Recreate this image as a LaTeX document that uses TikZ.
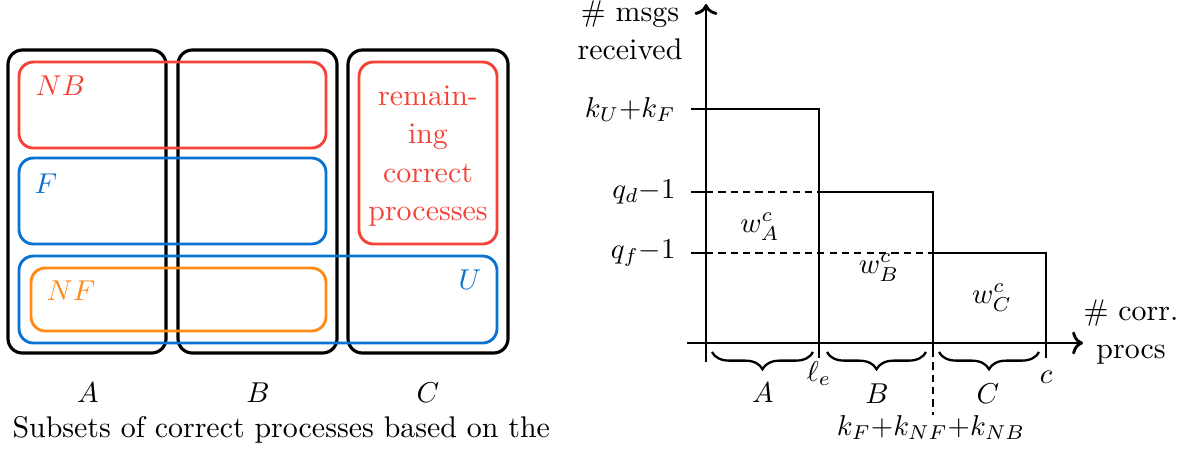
\documentclass[tikz,border=0pt]{standalone}
\usepackage{amsmath}
\usepackage{amssymb}
\usepackage{tikz}
\usetikzlibrary{positioning}
\usetikzlibrary{decorations.pathreplacing}
\usetikzlibrary{calc}
\usetikzlibrary{arrows.meta}
\definecolor{rougeens}{RGB}{244,67,54}
\definecolor{bleuens}{RGB}{10,114,208}
\definecolor{orangeens}{RGB}{255,138,24}
\begin{document}
\begin{tikzpicture}[x=0.348pt,y=-0.348pt,every node/.style={font=\fontsize{10.4}{13.4}\selectfont}]
% définition des paramètres
\tikzstyle boitenoire=[color=black,line width=1.1pt,rounded corners=5pt]
\tikzstyle boiterouge=[color=rougeens,line width=1pt,rounded corners=5pt]
\tikzstyle boitebleue=[color=bleuens,line width=1pt,rounded corners=5pt]
\tikzstyle boiteorange=[color=orangeens,line width=1pt,rounded corners=5pt]
\tikzstyle axemichael=[color=black,line width=1pt,->]
\tikzstyle courbemichael=[color=black,line width=1pt]
\tikzstyle pointilles=[color=black,line width=1pt,dash pattern=on 2.5pt off 1.8pt]
\tikzstyle accolade=[decorate,decoration={brace,amplitude=6pt},line width=0.8pt]
\tikzstyle etiq=[inner sep=0pt,anchor=base]
\tikzstyle bloc=[inner sep=0pt,anchor=north,align=center]
\newcommand{\axex}{706}   % abscisse de l'axe vertical
\newcommand{\axey}{343}   % ordonnée de l'axe horizontal
\newcommand{\xle}{819}    % abscisse de l_e
\newcommand{\xkf}{933}    % abscisse de k_F+k_NF+k_NB
\newcommand{\xc}{1046}    % abscisse de c
\newcommand{\yku}{109}    % niveau k_U+k_F
\newcommand{\yqd}{192}    % niveau q_d-1
\newcommand{\yqf}{253}    % niveau q_f-1
\useasboundingbox (0,0) rectangle (1202,450);
% les boîtes noires A, B, C
\draw [boitenoire] (8,50) rectangle (166,353);
\draw [boitenoire] (178,50) rectangle (337,353);
\draw [boitenoire] (348,50) rectangle (508,353);
% les ensembles
\draw [boiterouge] (19,62) rectangle (326,148);
\draw [boitebleue] (19,158) rectangle (326,244);
\draw [boitebleue] (19,256) rectangle (497,343);
\draw [boiteorange] (31,268) rectangle (326,331);
\draw [boiterouge] (359,62) rectangle (497,244);
\node [etiq,anchor=base west,text=rougeens] (nb) at (35,95) {$NB$};
\node [etiq,anchor=base west,text=bleuens] (f) at (34,193) {$F$};
\node [etiq,anchor=base west,text=orangeens] (nf) at (46,300) {$NF$};
\node [etiq,anchor=base east,text=bleuens] (u) at (482,289) {$U$};
\node [bloc,text=rougeens] (reste) at (428,85) {remain-\\ing\\correct\\processes};
\node [etiq] (ensa) at (88,402) {$A$};
\node [etiq] (ensb) at (258,402) {$B$};
\node [etiq] (ensc) at (428,402) {$C$};
\node [etiq,anchor=base west] (legende) at (12,437) {Subsets of correct processes based on the};
% les axes
\coordinate (xdeb) at (687,\axey);
\coordinate (xfin) at (1083,\axey);
\coordinate (ydeb) at (\axex,362);
\coordinate (yfin) at (\axex,4);
\draw [axemichael] (xdeb) -- (xfin);
\draw [axemichael] (ydeb) -- (yfin);
\node [bloc] (ylab) at (630,0) {\# msgs\\received};
\node [bloc] (xlab) at (1131,299) {\# corr.\\procs};
% les marches
\coordinate (ku) at (691,\yku);
\coordinate (qd) at (691,\yqd);
\coordinate (qf) at (691,\yqf);
\draw [courbemichael] (ku) -- (\xle,\yku) -- (\xle,358);
\draw [courbemichael] (qd) -- (\axex,\yqd);
\draw [pointilles] (\axex,\yqd) -- (\xle,\yqd);
\draw [courbemichael] (\xle,\yqd) -- (\xkf,\yqd) -- (\xkf,350);
\draw [pointilles] (\xkf,350) -- (\xkf,415);
\draw [courbemichael] (qf) -- (\axex,\yqf);
\draw [pointilles] (\axex,\yqf) -- (\xkf,\yqf);
\draw [courbemichael] (\xkf,\yqf) -- (\xc,\yqf) -- (\xc,358);
\node [etiq,anchor=base east] (lku) at (676,117) {$k_U{+}k_F$};
\node [etiq,anchor=base east] (lqd) at (676,198) {$q_d{-}1$};
\node [etiq,anchor=base east] (lqf) at (676,258) {$q_f{-}1$};
\node [etiq] (wa) at (760,232) {$w_A^c$};
\node [etiq] (wb) at (879,273) {$w_B^c$};
\node [etiq] (wc) at (992,303) {$w_C^c$};
% les accolades
\draw [accolade] (813,352) -- (712,352);
\draw [accolade] (926,352) -- (827,352);
\draw [accolade] (1039,352) -- (939,352);
\node [etiq] (la) at (763,402) {$A$};
\node [etiq] (lb) at (877,403) {$B$};
\node [etiq] (lc) at (988,403) {$C$};
\node [etiq] (lle) at (819,381) {$\ell_e$};
\node [etiq] (lcc) at (1046,383) {$c$};
\node [etiq] (lkf) at (931,435) {$k_F{+}k_{NF}{+}k_{NB}$};
\end{tikzpicture}
\end{document}
